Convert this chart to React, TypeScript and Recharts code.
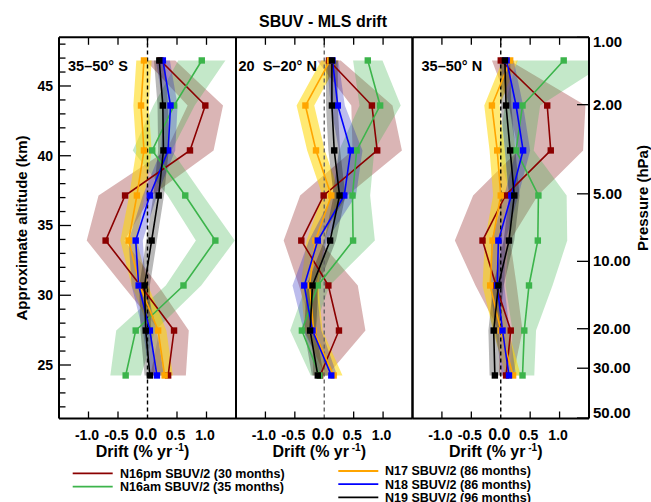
import { ComposedChart, Line, Area, XAxis, YAxis, ReferenceLine } from "recharts";

const W = 651;
const H = 502;
const TOP = 37.3;
const BOTTOM = 418.5;
const FONT = '"Liberation Sans", Arial, Helvetica, sans-serif';

// altitude (km) of each retrieval level
const altitudes = [46.83, 43.6, 40.38, 37.15, 33.92, 30.7, 27.47, 24.25];
const altDomain = [21.165, 48.49];
const altTicks = [22, 23, 24, 25, 26, 27, 28, 29, 30, 31, 32, 33, 34, 35, 36, 37, 38, 39, 40, 41, 42, 43, 44, 45, 46, 47, 48];
const altLabels = [25, 30, 35, 40, 45];
const pressureTicks = [48.49, 43.66, 37.27, 32.43, 27.6, 24.77, 21.2];
const pressureLabels = ["1.00", "2.00", "5.00", "10.00", "20.00", "30.00", "50.00"];
const driftTicks = [-1, -0.5, 0, 0.5, 1];
const driftLabels = ["-1.0", "-0.5", "0.0", "0.5", "1.0"];

// 35-50 S
const sS_n16pm = [0.22, 0.98, 0.72, -0.38, -0.71, -0.12, 0.45, 0.35];
const sS_n16pmErr = [0.25, 0.3, 0.4, 0.45, 0.32, 0.3, 0.25, 0.3];
const sS_n16am = [0.92, 0.45, 0.08, 0.64, 1.15, 0.61, -0.2, -0.37];
const sS_n16amErr = [0.4, 0.35, 0.33, 0.3, 0.33, 0.3, 0.33, 0.26];
const sS_n17 = [-0.06, -0.11, -0.06, -0.18, -0.32, -0.13, 0.18, 0.29];
const sS_n17Err = [0.13, 0.13, 0.13, 0.13, 0.14, 0.14, 0.14, 0.14];
const sS_n18 = [0.26, 0.39, 0.35, 0.04, -0.2, -0.15, 0.04, 0.16];
const sS_n18Err = [0.12, 0.12, 0.12, 0.12, 0.12, 0.12, 0.12, 0.12];
const sS_n19 = [0.2, 0.26, 0.27, 0.19, 0.07, -0.05, -0.03, 0.04];
const sS_n19Err = [0.09, 0.09, 0.09, 0.09, 0.09, 0.09, 0.09, 0.09];

// 20 S - 20 N
const tr_n16pm = [0.08, 0.81, 0.9, -0.01, -0.39, 0.07, 0.25, -0.07];
const tr_n16pmErr = [0.2, 0.35, 0.42, 0.4, 0.3, 0.5, 0.45, 0.12];
const tr_n16am = [0.74, 0.95, 0.55, 0.48, 0.49, -0.11, -0.38, -0.08];
const tr_n16amErr = [0.25, 0.35, 0.3, 0.3, 0.37, 0.2, 0.2, 0.15];
const tr_n17 = [0.1, -0.32, -0.14, 0.12, -0.15, -0.25, -0.18, 0.16];
const tr_n17Err = [0.15, 0.15, 0.15, 0.15, 0.15, 0.15, 0.15, 0.15];
const tr_n18 = [0.14, 0.23, 0.45, 0.34, -0.11, -0.34, -0.2, 0.12];
const tr_n18Err = [0.1, 0.12, 0.2, 0.2, 0.15, 0.2, 0.15, 0.1];
const tr_n19 = [0.13, 0.13, 0.17, 0.26, 0.1, -0.2, -0.24, -0.11];
const tr_n19Err = [0.1, 0.1, 0.1, 0.1, 0.1, 0.1, 0.1, 0.1];

// 35-50 N
const nN_n16pm = [0.0, 0.79, 0.85, 0.08, -0.31, -0.08, 0.17, 0.09];
const nN_n16pmErr = [0.15, 0.65, 0.55, 0.55, 0.47, 0.35, 0.2, 0.12];
const nN_n16am = [1.07, 0.37, 0.26, 0.64, 0.63, 0.48, 0.4, 0.37];
const nN_n16amErr = [0.8, 0.3, 0.3, 0.48, 0.5, 0.4, 0.2, 0.2];
const nN_n17 = [0.16, -0.15, -0.06, 0.0, -0.14, -0.18, 0.0, 0.21];
const nN_n17Err = [0.13, 0.13, 0.13, 0.13, 0.13, 0.13, 0.13, 0.13];
const nN_n18 = [0.1, 0.26, 0.38, 0.18, -0.04, -0.06, 0.03, 0.14];
const nN_n18Err = [0.12, 0.12, 0.12, 0.12, 0.12, 0.12, 0.12, 0.12];
const nN_n19 = [0.07, 0.09, 0.16, 0.23, 0.14, -0.04, -0.12, -0.1];
const nN_n19Err = [0.09, 0.09, 0.09, 0.09, 0.09, 0.09, 0.09, 0.09];

const series = [
  { key: "n16pm", name: "N16pm SBUV/2 (30 months)", color: "#8b0000", band: "#8b1a1a", op: 0.32 },
  { key: "n16am", name: "N16am SBUV/2 (35 months)", color: "#3cb44b", band: "#3cb44b", op: 0.3 },
  { key: "n17", name: "N17 SBUV/2 (86 months)", color: "#ffa500", band: "#ffd700", op: 0.55 },
  { key: "n18", name: "N18 SBUV/2 (86 months)", color: "#0000ff", band: "#2020c0", op: 0.3 },
  { key: "n19", name: "N19 SBUV/2 (96 months)", color: "#000000", band: "#000000", op: 0.28 },
];

const panels = [
  {
    label: "35–50° S", x0: 59, x1: 236, zeroColor: "#000",
    vals: { n16pm: sS_n16pm, n16am: sS_n16am, n17: sS_n17, n18: sS_n18, n19: sS_n19 },
    errs: { n16pm: sS_n16pmErr, n16am: sS_n16amErr, n17: sS_n17Err, n18: sS_n18Err, n19: sS_n19Err },
  },
  {
    label: "20  S–20° N", x0: 236, x1: 412.5, zeroColor: "#666",
    vals: { n16pm: tr_n16pm, n16am: tr_n16am, n17: tr_n17, n18: tr_n18, n19: tr_n19 },
    errs: { n16pm: tr_n16pmErr, n16am: tr_n16amErr, n17: tr_n17Err, n18: tr_n18Err, n19: tr_n19Err },
  },
  {
    label: "35–50° N", x0: 412.5, x1: 589, zeroColor: "#000",
    vals: { n16pm: nN_n16pm, n16am: nN_n16am, n17: nN_n17, n18: nN_n18, n19: nN_n19 },
    errs: { n16pm: nN_n16pmErr, n16am: nN_n16amErr, n17: nN_n17Err, n18: nN_n18Err, n19: nN_n19Err },
  },
];

function buildRows(p: any) {
  return altitudes.map((alt, i) => {
    const row: any = { alt };
    series.forEach((s) => {
      const v = p.vals[s.key][i];
      const e = p.errs[s.key][i];
      row[s.key] = v;
      row[s.key + "_band"] = [v - e, v + e];
    });
    return row;
  });
}

const BottomTick = (props: any) => {
  const { x, y, payload } = props;
  const zero = payload.value === 0;
  return (
    <g>
      {!zero && <line x1={x} y1={y} x2={x} y2={y - 7} stroke="#000" strokeWidth={1.3} />}
      <text x={x - 1.5} y={y + 21.5} textAnchor="middle" fontSize={zero ? 16 : 14}
        fontWeight="bold" fill="#000" fontFamily={FONT}>
        {driftLabels[driftTicks.indexOf(payload.value)]}
      </text>
    </g>
  );
};

const TopTick = (props: any) => {
  const { x, y } = props;
  return <line x1={x} y1={y} x2={x} y2={y + 7.5} stroke="#000" strokeWidth={1.3} />;
};

const AltTick = (props: any) => {
  const { x, y, payload } = props;
  const major = altLabels.includes(payload.value);
  return (
    <g>
      <line x1={x} y1={y} x2={x + (major ? 12 : 6.5)} y2={y} stroke="#000" strokeWidth={1.3} />
      {major && (
        <text x={x - 6} y={y + 5} textAnchor="end" fontSize={14} fontWeight="bold" fill="#000" fontFamily={FONT}>
          {payload.value}
        </text>
      )}
    </g>
  );
};

const PressTick = (props: any) => {
  const { x, y, payload } = props;
  const i = pressureTicks.indexOf(payload.value);
  const dy = i === 0 ? 10 : i === pressureTicks.length - 1 ? 0 : 5;
  return (
    <g>
      <line x1={x} y1={y} x2={x - 12} y2={y} stroke="#000" strokeWidth={1.3} />
      <text x={x + 4} y={y + dy} textAnchor="start" fontSize={15} fontWeight="bold" fill="#000" fontFamily={FONT}>
        {pressureLabels[i]}
      </text>
    </g>
  );
};

const square = (color: string) => (props: any) => (
  <rect key={`sq-${props.index}`} x={props.cx - 3.2} y={props.cy - 3.2} width={6.4} height={6.4} fill={color} />
);

function Panel({ p, idx }: { p: any; idx: number }) {
  const data = buildRows(p);
  const axisLine = { stroke: "#000", strokeWidth: 2 };
  // axes are 1px thick so recharts still draws them; margins compensate
  return (
    <div style={{ position: "absolute", left: 0, top: 0 }}>
      <ComposedChart
        width={W}
        height={H}
        layout="vertical"
        data={data}
        margin={{ top: TOP - 1, bottom: H - BOTTOM - 1, left: p.x0 - 1, right: W - p.x1 - 1 }}
      >
        <XAxis type="number" domain={[-1.5, 1.5]} ticks={driftTicks} allowDataOverflow interval={0}
          height={1} tickSize={0} tickMargin={0} tickLine={false} axisLine={axisLine} tick={BottomTick} />
        <XAxis xAxisId="top" orientation="top" type="number" domain={[-1.5, 1.5]} ticks={driftTicks}
          allowDataOverflow interval={0} height={1} tickSize={0} tickMargin={0} tickLine={false}
          axisLine={axisLine} tick={TopTick} />
        <YAxis type="number" dataKey="alt" domain={altDomain} reversed allowDataOverflow width={1}
          ticks={altTicks} interval={0} tickSize={0} tickMargin={0} tickLine={false}
          axisLine={axisLine} tick={idx === 0 ? AltTick : false} />
        <YAxis yAxisId="p" orientation="right" type="number" dataKey="alt" domain={altDomain} reversed
          allowDataOverflow width={1} ticks={pressureTicks} interval={0} tickSize={0} tickMargin={0}
          tickLine={false} axisLine={axisLine} tick={idx === 2 ? PressTick : false} />
        {series.map((s) => (
          <Area key={s.key + "_band"} type="linear" dataKey={s.key + "_band"} fill={s.band}
            fillOpacity={s.op} stroke="none" dot={false} activeDot={false} isAnimationActive={false} />
        ))}
        <ReferenceLine x={0} stroke={p.zeroColor} strokeDasharray="4 3" strokeWidth={1.4} />
        {series.map((s) => (
          <Line key={s.key} type="linear" dataKey={s.key} stroke={s.color} strokeWidth={1.6}
            dot={square(s.color)} activeDot={false} isAnimationActive={false} />
        ))}
      </ComposedChart>
    </div>
  );
}

const legendLeft = [series[0], series[1]];
const legendRight = [series[2], series[3], series[4]];

export default function App() {
  return (
    <div style={{ position: "absolute", left: 0, top: 0, width: W, height: H, background: "#fff" }}>
      {panels.map((p, i) => (
        <Panel key={i} p={p} idx={i} />
      ))}
      <svg width={W} height={H} style={{ position: "absolute", left: 0, top: 0, pointerEvents: "none" }}
        fontFamily={FONT} fontWeight="bold">
        <text x={323} y={27} textAnchor="middle" fontSize={16}>SBUV - MLS drift</text>
        {panels.map((p, i) => (
          <text key={"lab" + i} x={p.x0 + (i === 1 ? 2.5 : 9)} y={71} fontSize={14.5} style={{ whiteSpace: "pre" }}>
            {p.label}
          </text>
        ))}
        {panels.map((p, i) => (
          <text key={"dr" + i} x={(p.x0 + p.x1) / 2 - 5} y={457} textAnchor="middle" fontSize={16}>
            Drift (% yr<tspan dy={-6} fontSize={10}> -1</tspan><tspan dy={6}>)</tspan>
          </text>
        ))}
        <text transform="translate(27,228) rotate(-90)" textAnchor="middle" fontSize={15}>
          Approximate altitude (km)
        </text>
        <text transform="translate(648,198) rotate(-90)" textAnchor="middle" fontSize={15}>
          Pressure (hPa)
        </text>
        {legendLeft.map((s, i) => (
          <g key={s.key}>
            <line x1={72.7} x2={112.7} y1={473.3 + i * 13.4} y2={473.3 + i * 13.4} stroke={s.color} strokeWidth={1.8} />
            <text x={120} y={477.6 + i * 13.4} fontSize={12.5}>{s.name}</text>
          </g>
        ))}
        {legendRight.map((s, i) => (
          <g key={s.key}>
            <line x1={338.3} x2={378.3} y1={471 + i * 13.2} y2={471 + i * 13.2} stroke={s.color} strokeWidth={1.8} />
            <text x={385} y={475.3 + i * 13.2} fontSize={12.5}>{s.name}</text>
          </g>
        ))}
      </svg>
    </div>
  );
}
